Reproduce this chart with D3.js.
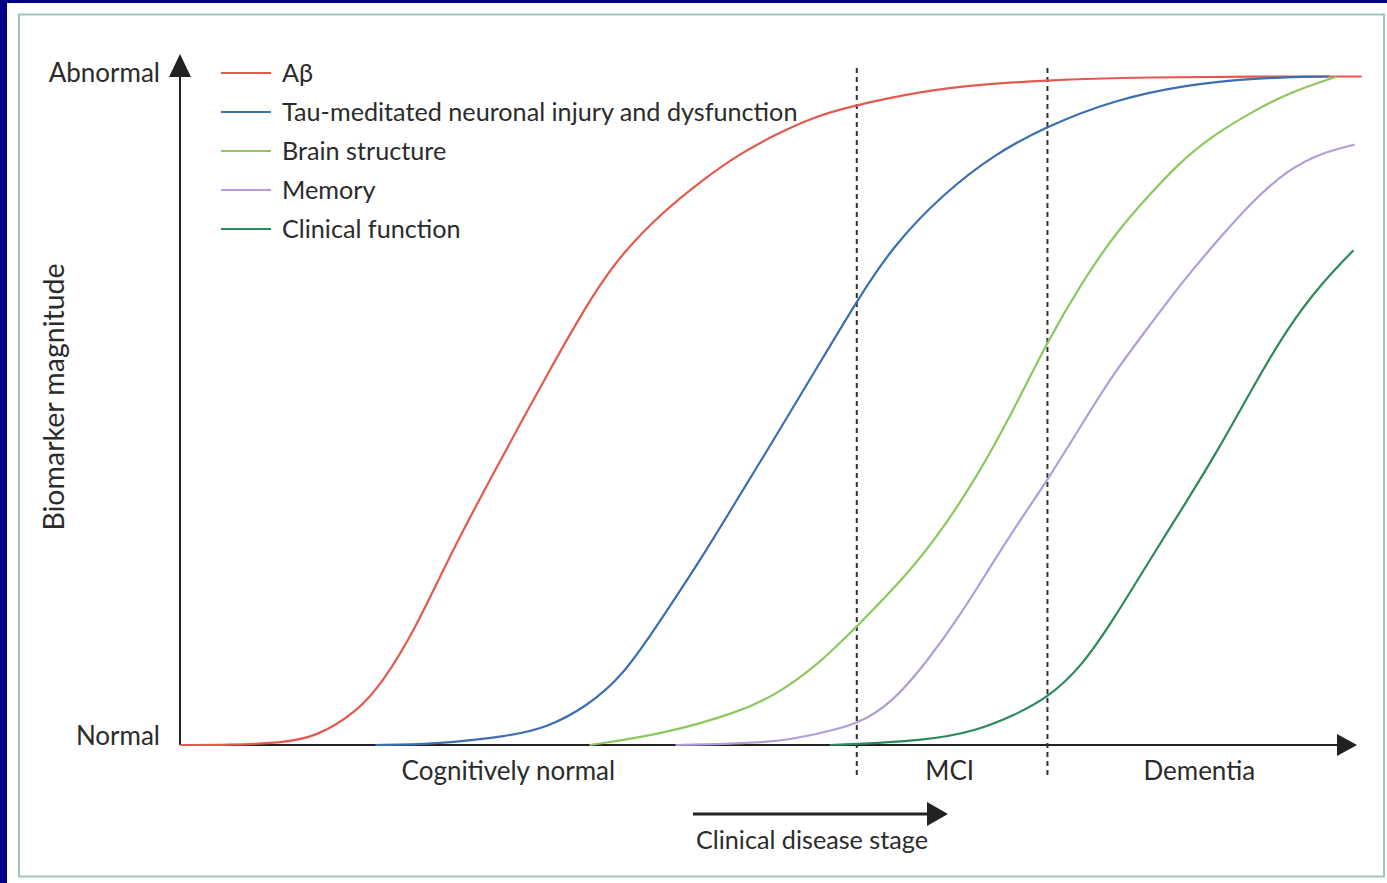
<!DOCTYPE html>
<html>
<head>
<meta charset="utf-8">
<script src="https://cdn.jsdelivr.net/npm/d3@7/dist/d3.min.js"></script>
<style>
  html, body { margin: 0; padding: 0; background: #00008b; }
  svg { display: block; }
  text { font-family: Lato, "Open Sans", sans-serif; fill: #2b2b2b; }
</style>
</head>
<body>
<svg id="chart" width="1387" height="883"></svg>
<script>
// ---------- Data (x = disease progression 0-100, y = biomarker magnitude 0-100) ----------
const seriesNames = ["Aβ", "Tau-meditated neuronal injury and dysfunction", "Brain structure", "Memory", "Clinical function"];
const seriesColors = ["#e3594f", "#3b6fb2", "#8cc85e", "#b39dd8", "#2b8a5c"];

const abeta = [[0,0],[4.2,0],[8.5,0.3],[11.6,1.2],[15.0,4.9],[17.2,9.3],[19.9,17.0],[23.1,29.0],[26.7,40.9],[31.3,55.8],[35.2,67.8],[37.7,73.8],[41.0,79.7],[44.3,84.4],[47.5,88.4],[50.7,91.4],[54.0,94.1],[57.5,95.7],[59.5,96.5],[64.8,98.4],[73.7,99.5],[82.4,99.9],[91.2,100],[100.4,100]];
const tau = [[16.6,0],[21.5,0.1],[28.0,1.3],[31.3,2.7],[34.5,5.7],[37.7,10.4],[41.0,19.1],[44.3,27.9],[47.5,37.2],[50.7,46.4],[54.0,56.1],[57.5,66.4],[60.5,74.5],[64.8,82.4],[69.2,88.4],[73.7,92.6],[79.4,96.5],[85.3,98.7],[91.2,99.8],[97.6,100]];
const brain = [[34.8,0],[41.0,1.6],[47.5,4.9],[50.7,7.6],[54.0,11.7],[57.5,17.7],[61.9,25.7],[64.8,32.3],[67.8,40.4],[70.7,49.7],[73.7,60.4],[76.6,69.1],[79.4,76.4],[82.4,82.4],[85.3,87.8],[88.3,91.8],[91.2,94.8],[94.1,97.5],[98.3,100]];
const memory = [[42.1,0],[50.7,0.3],[54.4,1.8],[57.5,3.0],[60.5,6.3],[63.4,12.3],[66.3,19.4],[69.2,27.7],[71.4,33.7],[73.7,39.6],[76.6,47.9],[79.4,55.8],[82.4,62.8],[85.3,69.6],[88.3,75.8],[91.2,81.5],[94.1,86.0],[97.0,88.6],[99.8,89.8]];
const clinical = [[55.2,0],[63.4,0.6],[67.8,2.2],[70.7,4.3],[73.7,7.0],[76.6,11.7],[79.4,19.0],[82.4,27.7],[85.3,35.8],[88.3,44.4],[91.2,53.7],[94.1,62.4],[97.0,69.1],[99.7,74.0]];
const seriesData = [abeta, tau, brain, memory, clinical];

const stageBoundaries = [57.5, 73.7];
const stageNames = ["Cognitively normal", "MCI", "Dementia"];
const stageCenters = [27.9, 65.4, 86.6];
const yTickLabels = ["Normal", "Abnormal"];
const yTickValues = [0, 100];

// ---------- Layout ----------
const svg = d3.select("#chart");
svg.append("rect").attr("x", 7).attr("y", 3).attr("width", 1380).attr("height", 880).attr("fill", "#ffffff");
svg.append("rect").attr("x", 19).attr("y", 14.5).attr("width", 1365).attr("height", 862)
   .attr("fill", "none").attr("stroke", "#9cc7b8").attr("stroke-width", 2);

const x = d3.scaleLinear().domain([0, 100]).range([180, 1357]);
const y = d3.scaleLinear().domain([0, 100]).range([745, 76.5]);

const ink = "#222";

// Axes
svg.append("line").attr("x1", x(0)).attr("x2", x(100) - 15).attr("y1", y(0)).attr("y2", y(0))
   .attr("stroke", ink).attr("stroke-width", 2);
svg.append("line").attr("x1", x(0)).attr("x2", x(0)).attr("y1", y(0)).attr("y2", 72)
   .attr("stroke", ink).attr("stroke-width", 2);
svg.append("path").attr("d", d3.line()([[x(100), y(0)], [x(100) - 20, y(0) - 11], [x(100) - 20, y(0) + 11]]) + "Z").attr("fill", ink);
svg.append("path").attr("d", d3.line()([[x(0), 54], [x(0) - 11, 77], [x(0) + 11, 77]]) + "Z").attr("fill", ink);

// Y labels
svg.selectAll(".ylab").data(yTickValues).join("text")
   .attr("class", "ylab")
   .attr("x", 160).attr("y", (d, i) => i === 0 ? 745 : 82)
   .attr("text-anchor", "end").attr("font-size", 26)
   .text((d, i) => yTickLabels[i]);

svg.append("text").attr("transform", "translate(64,397) rotate(-90)")
   .attr("text-anchor", "middle").attr("font-size", 28.5).text("Biomarker magnitude");

// Stage boundaries
svg.selectAll(".stage").data(stageBoundaries).join("line")
   .attr("x1", d => x(d)).attr("x2", d => x(d)).attr("y1", 68).attr("y2", 776)
   .attr("stroke", "#333").attr("stroke-width", 2).attr("stroke-dasharray", "5,4");

// Stage labels
svg.selectAll(".stagelab").data(stageNames).join("text")
   .attr("x", (d, i) => x(stageCenters[i])).attr("y", 780)
   .attr("text-anchor", "middle").attr("font-size", 26).text(d => d);

// Clinical disease stage arrow
svg.append("line").attr("x1", 693).attr("x2", 930).attr("y1", 814).attr("y2", 814)
   .attr("stroke", ink).attr("stroke-width", 3);
svg.append("path").attr("d", d3.line()([[948, 814], [927, 802], [927, 826]]) + "Z").attr("fill", ink);
svg.append("text").attr("x", 812).attr("y", 849).attr("text-anchor", "middle").attr("font-size", 25.2).text("Clinical disease stage");

// Curves
const line = d3.line().x(d => x(d[0])).y(d => y(d[1])).curve(d3.curveBasis);
svg.selectAll(".curve").data(seriesData).join("path")
   .attr("d", line).attr("fill", "none")
   .attr("stroke", (d, i) => seriesColors[i]).attr("stroke-width", 2.2);

// Legend
const leg = svg.selectAll(".leg").data(seriesNames).join("g")
   .attr("transform", (d, i) => `translate(221,${73 + i * 39})`);
leg.append("line").attr("x1", 0).attr("x2", 50).attr("y1", 0).attr("y2", 0)
   .attr("stroke", (d, i) => seriesColors[i]).attr("stroke-width", 2.2);
leg.append("text").attr("x", 61).attr("y", 9).attr("font-size", 25.2).text(d => d);
</script>
</body>
</html>
